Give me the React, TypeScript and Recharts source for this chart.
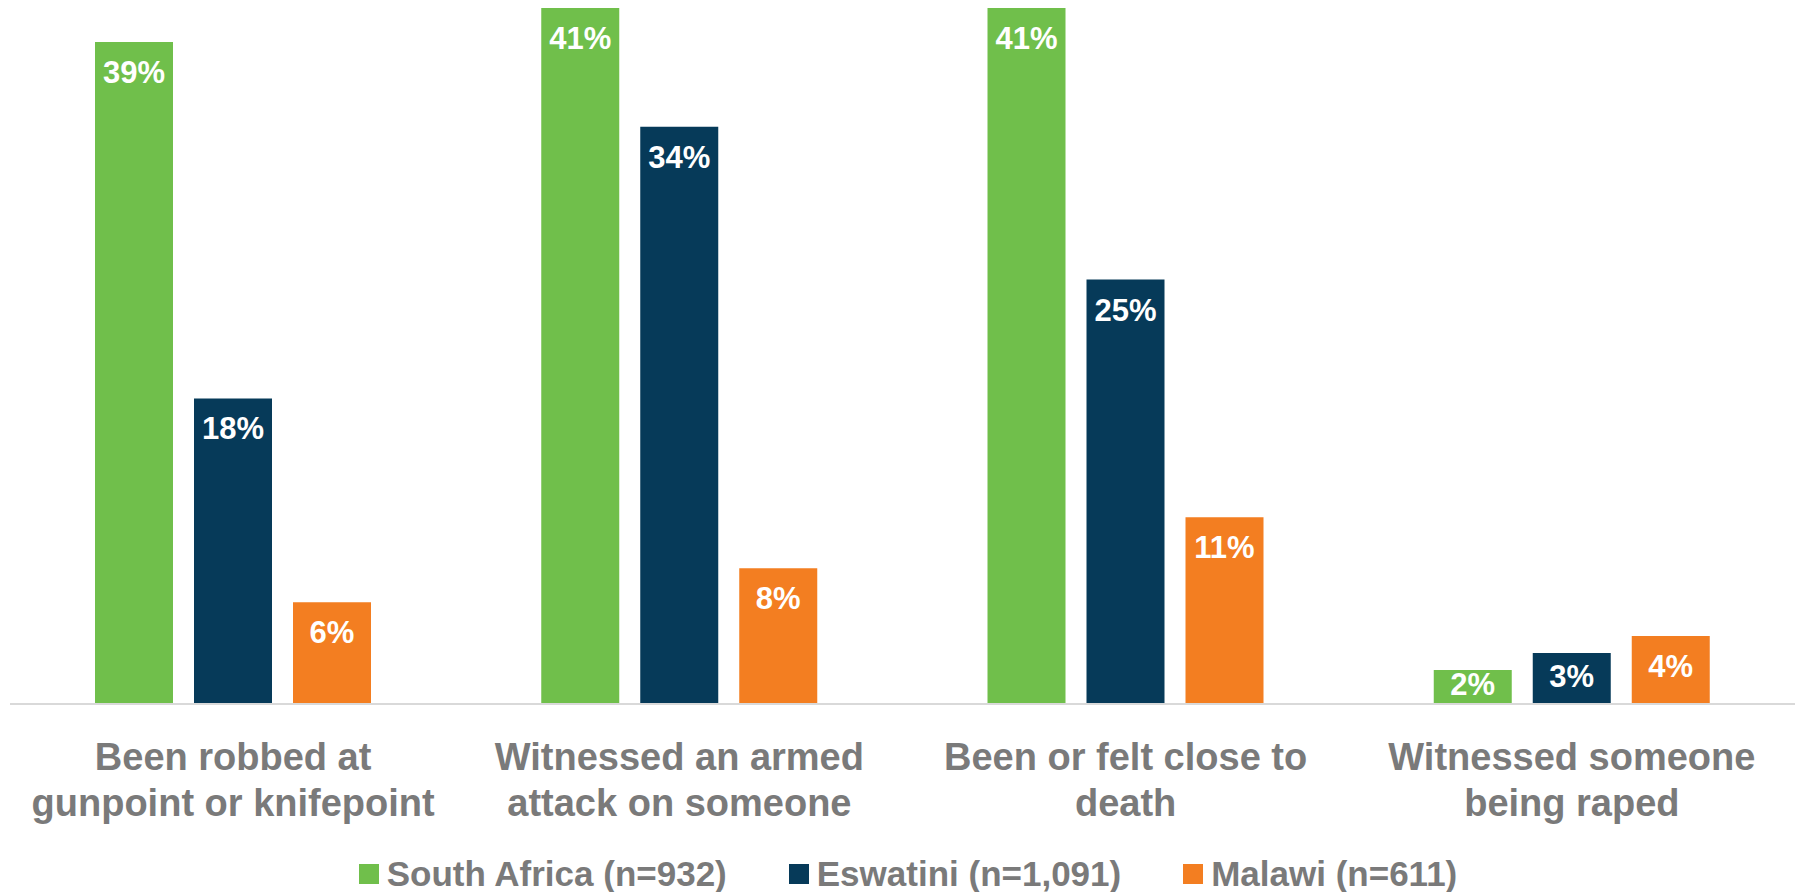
import { BarChart, Bar, XAxis, YAxis, Legend, LabelList } from "recharts";

const categories = [
  "Been robbed at\ngunpoint or knifepoint",
  "Witnessed an armed\nattack on someone",
  "Been or felt close to\ndeath",
  "Witnessed someone\nbeing raped",
];

const southAfrica = [39, 41, 41, 2];
const eswatini = [18, 34, 25, 3];
const malawi = [6, 8, 11, 4];

const seriesNames = ["South Africa (n=932)", "Eswatini (n=1,091)", "Malawi (n=611)"];
const seriesColors = ["#70BF4B", "#063A59", "#F37E21"];

const data = categories.map((name, i) => ({
  name,
  sa: southAfrica[i],
  sz: eswatini[i],
  mw: malawi[i],
}));

const FONT = "'Liberation Sans', Arial, sans-serif";
const GREY = "#7A7A7A";

function CategoryTick(props: any) {
  const { x, y, payload } = props;
  const lines = String(payload.value).split("\n");
  return (
    <text
      x={x}
      y={y}
      textAnchor="middle"
      fill={GREY}
      fontFamily={FONT}
      fontWeight={700}
      fontSize={38}
    >
      {lines.map((line, i) => (
        <tspan key={i} x={x} dy={i === 0 ? 58 : 46}>
          {line}
        </tspan>
      ))}
    </text>
  );
}

function ValueLabel(props: any) {
  const { x, y, width, height, value } = props;
  const center = Math.min(y + 30, y + height / 2 - 3);
  return (
    <text
      x={x + width / 2}
      y={center + 11}
      textAnchor="middle"
      fill="#FFFFFF"
      fontFamily={FONT}
      fontWeight={700}
      fontSize={31}
    >
      {value}%
    </text>
  );
}

function LegendRow() {
  return (
    <div
      style={{
        display: "flex",
        justifyContent: "center",
        alignItems: "center",
        height: 30,
        paddingLeft: 17,
        fontFamily: FONT,
        fontWeight: 700,
        fontSize: 35,
        color: GREY,
      }}
    >
      {seriesNames.map((name, i) => (
        <div
          key={name}
          style={{
            display: "flex",
            alignItems: "center",
            marginRight: i < seriesNames.length - 1 ? 62 : 0,
          }}
        >
          <span
            style={{
              display: "inline-block",
              width: 20,
              height: 20,
              background: seriesColors[i],
              marginRight: 8,
            }}
          />
          <span style={{ whiteSpace: "nowrap" }}>{name}</span>
        </div>
      ))}
    </div>
  );
}

export default function App() {
  return (
    <div style={{ position: "absolute", left: 0, top: 0, background: "#fff" }}>
      <BarChart
        width={1799}
        height={892}
        data={data}
        margin={{ top: 8, right: 4, left: 10, bottom: 68 }}
        barGap={21}
        barSize={78}
      >
        <XAxis
          dataKey="name"
          height={120}
          axisLine={{ stroke: "#D9D9D9", strokeWidth: 2 }}
          tickLine={false}
          tick={<CategoryTick />}
          interval={0}
        />
        <YAxis hide domain={[0, 41]} />
        <Legend
          verticalAlign="middle"
          align="center"
          layout="horizontal"
          content={<LegendRow />}
          wrapperStyle={{ top: 859, left: 0, width: 1799 }}
        />
        <Bar dataKey="sa" name={seriesNames[0]} fill={seriesColors[0]} isAnimationActive={false}>
          <LabelList dataKey="sa" content={<ValueLabel />} />
        </Bar>
        <Bar dataKey="sz" name={seriesNames[1]} fill={seriesColors[1]} isAnimationActive={false}>
          <LabelList dataKey="sz" content={<ValueLabel />} />
        </Bar>
        <Bar dataKey="mw" name={seriesNames[2]} fill={seriesColors[2]} isAnimationActive={false}>
          <LabelList dataKey="mw" content={<ValueLabel />} />
        </Bar>
      </BarChart>
    </div>
  );
}
